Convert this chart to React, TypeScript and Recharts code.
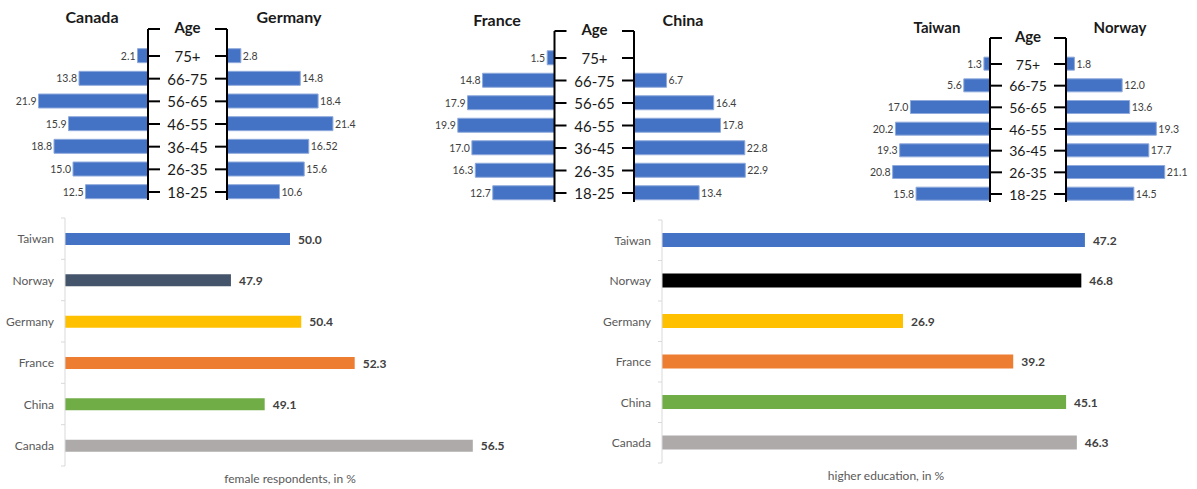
import { BarChart, Bar, XAxis, YAxis, LabelList, Cell } from 'recharts'

// age groups, top row first
const ageGroups = ['75+', '66-75', '56-65', '46-55', '36-45', '26-35', '18-25']

const canada = [2.1, 13.8, 21.9, 15.9, 18.8, 15.0, 12.5]
const germany = [2.8, 14.8, 18.4, 21.4, 16.52, 15.6, 10.6]
const france = [1.5, 14.8, 17.9, 19.9, 17.0, 16.3, 12.7]
const china = [0, 6.7, 16.4, 17.8, 22.8, 22.9, 13.4]
const taiwan = [1.3, 5.6, 17.0, 20.2, 19.3, 20.8, 15.8]
const norway = [1.8, 12.0, 13.6, 19.3, 17.7, 21.1, 14.5]

const countries = ['Taiwan', 'Norway', 'Germany', 'France', 'China', 'Canada']
const femaleShare = [50.0, 47.9, 50.4, 52.3, 49.1, 56.5]
const higherEducation = [47.2, 46.8, 26.9, 39.2, 45.1, 46.3]
const femaleColors = ['#4472C4', '#44546A', '#FFC000', '#ED7D31', '#70AD47', '#AEAAAA']
const educationColors = ['#4472C4', '#000000', '#FFC000', '#ED7D31', '#70AD47', '#AEAAAA']

const FONT = 'Lato, "Open Sans", sans-serif'
const PAD = 8
const PYR_PAD = 20

const fmt = (v: number) => {
  if (v === 0) return '0'
  const decimals = (String(v).split('.')[1] ?? '').length
  return v.toFixed(Math.max(1, decimals))
}

const edges = (props: any) => {
  const vb = props.viewBox && props.viewBox.width !== undefined ? props.viewBox : props
  const x = Number(vb.x)
  const w = Number(vb.width)
  return {
    left: Math.min(x, x + w),
    right: Math.max(x, x + w),
    cy: Number(vb.y) + Number(vb.height) / 2,
  }
}

interface PyramidProps {
  leftName: string
  rightName: string
  leftValues: number[]
  rightValues: number[]
  leftAxis: number
  rightAxis: number
  top: number
  bottom: number
  first: number
  last: number
  leftScale: number
  rightScale: number
  barSize: number
  catSize: number
  titleY: number
  leftTitleX: number
  rightTitleX: number
}

function Pyramid(p: PyramidProps) {
  // row index runs downward: 0 = 75+, 6 = 18-25; the "Age" head sits above row 0
  const step = (p.last - p.first) / 6
  const head = -(p.first - p.top) / step
  const foot = 6 + (p.bottom - p.last) / step
  const ticks = [head, 0, 1, 2, 3, 4, 5, 6]
  const rows = ageGroups.map((age, i) => ({
    pos: i,
    age,
    l: p.leftValues[i],
    r: p.rightValues[i],
  }))

  const xMax = 25
  const mLeft = 30
  const lw = xMax * p.leftScale
  const rw = xMax * p.rightScale
  const gap = p.rightAxis - p.leftAxis
  const axisW = gap - 14
  const height = p.bottom - p.top + 2 * PYR_PAD
  const axisStyle = { stroke: '#000', strokeWidth: 2 }

  const ageTick = (props: any) => {
    const v = props.payload.value
    const isHead = v < -0.5
    const label = isHead ? 'Age' : ageGroups[Math.round(v)]
    return (
      <text
        x={mLeft + lw + gap / 2}
        y={props.y + (isHead ? -2 : 0)}
        textAnchor="middle"
        dominantBaseline="central"
        fontFamily={FONT}
        fontSize={isHead ? 15 : p.catSize}
        fontWeight={isHead ? 700 : 400}
        fill="#1a1a1a"
      >
        {label}
      </text>
    )
  }

  const title = (text: string, x: number) => (
    <div
      style={{
        position: 'absolute',
        left: x,
        top: p.titleY,
        transform: 'translate(-50%, -50%)',
        fontFamily: FONT,
        fontWeight: 700,
        fontSize: p.catSize + 1,
        color: '#1a1a1a',
        whiteSpace: 'nowrap',
      }}
    >
      {text}
    </div>
  )

  return (
    <>
      {title(p.leftName, p.leftTitleX)}
      {title(p.rightName, p.rightTitleX)}
      <div style={{ position: 'absolute', left: p.leftAxis - lw - mLeft, top: p.top - PYR_PAD }}>
        <BarChart
          width={mLeft + lw + axisW}
          height={height}
          data={rows}
          layout="vertical"
          margin={{ top: PYR_PAD, bottom: PYR_PAD, left: mLeft, right: 0 }}
        >
          <XAxis type="number" domain={[0, xMax]} reversed hide allowDataOverflow />
          <YAxis
            type="number"
            dataKey="pos"
            orientation="right"
            domain={[head, foot]}
            ticks={ticks}
            interval={0}
            allowDataOverflow
            width={axisW}
            axisLine={axisStyle}
            tickLine={axisStyle}
            tickSize={12}
            tick={ageTick}
          />
          <Bar dataKey="l" fill="#4472C4" stroke="#8faadc" strokeWidth={1} barSize={p.barSize} isAnimationActive={false}>
            <LabelList
              dataKey="l"
              content={(props: any) => {
                const e = edges(props)
                return (
                  <text x={e.left - 2} y={e.cy} textAnchor="end" dominantBaseline="central" fontFamily={FONT} fontSize={10.5} fill="#404040">
                    {fmt(Number(props.value))}
                  </text>
                )
              }}
            />
          </Bar>
        </BarChart>
      </div>
      <div style={{ position: 'absolute', left: p.rightAxis - 14, top: p.top - PYR_PAD }}>
        <BarChart
          width={14 + rw + 30}
          height={height}
          data={rows}
          layout="vertical"
          margin={{ top: PYR_PAD, bottom: PYR_PAD, left: 0, right: 30 }}
        >
          <XAxis type="number" domain={[0, xMax]} hide allowDataOverflow />
          <YAxis
            type="number"
            dataKey="pos"
            domain={[head, foot]}
            ticks={ticks}
            interval={0}
            allowDataOverflow
            width={14}
            axisLine={axisStyle}
            tickLine={axisStyle}
            tickSize={12}
            tick={() => <g />}
          />
          <Bar dataKey="r" fill="#4472C4" stroke="#8faadc" strokeWidth={1} barSize={p.barSize} isAnimationActive={false}>
            <LabelList
              dataKey="r"
              content={(props: any) => {
                const e = edges(props)
                return (
                  <text x={e.right + 2} y={e.cy} textAnchor="start" dominantBaseline="central" fontFamily={FONT} fontSize={10.5} fill="#404040">
                    {fmt(Number(props.value))}
                  </text>
                )
              }}
            />
          </Bar>
        </BarChart>
      </div>
    </>
  )
}

interface ShareProps {
  values: number[]
  colors: string[]
  domain: [number, number]
  left: number
  top: number
  bottom: number
  plotWidth: number
  barSize: number
  title: string
}

function ShareChart(s: ShareProps) {
  const data = countries.map((country, i) => ({ country, value: s.values[i] }))
  const axisW = 65
  const band = (s.bottom - s.top) / countries.length
  const xAxisH = 17

  const countryTick = (props: any) => {
    const y = props.y
    const last = props.index === countries.length - 1
    return (
      <g>
        <line x1={axisW - 4} x2={axisW} y1={y - band / 2} y2={y - band / 2} stroke="#d9d9d9" />
        {last && <line x1={axisW - 4} x2={axisW} y1={y + band / 2} y2={y + band / 2} stroke="#d9d9d9" />}
        <text x={axisW - 11} y={y} textAnchor="end" dominantBaseline="central" fontFamily={FONT} fontSize={12} fill="#595959">
          {props.payload.value}
        </text>
      </g>
    )
  }

  return (
    <div style={{ position: 'absolute', left: s.left, top: s.top - PAD }}>
      <BarChart
        width={axisW + s.plotWidth + 40}
        height={s.bottom - s.top + PAD + xAxisH + 4}
        data={data}
        layout="vertical"
        margin={{ top: PAD, bottom: 4, left: 0, right: 40 }}
      >
        <XAxis
          type="number"
          domain={s.domain}
          allowDataOverflow
          tick={false}
          axisLine={false}
          tickLine={false}
          height={xAxisH}
          label={{ value: s.title, position: 'insideBottom', offset: 0, fontFamily: FONT, fontSize: 12, fill: '#595959' }}
        />
        <YAxis
          type="category"
          dataKey="country"
          width={axisW}
          axisLine={{ stroke: '#d9d9d9' }}
          tickLine={false}
          interval={0}
          tick={countryTick}
        />
        <Bar dataKey="value" barSize={s.barSize} isAnimationActive={false}>
          {data.map((d, i) => (
            <Cell key={d.country} fill={s.colors[i]} />
          ))}
          <LabelList
            dataKey="value"
            content={(props: any) => {
              const e = edges(props)
              return (
                <text x={e.right + 8} y={e.cy} textAnchor="start" dominantBaseline="central" fontFamily={FONT} fontSize={12} fontWeight={700} fill="#404040">
                  {fmt(Number(props.value))}
                </text>
              )
            }}
          />
        </Bar>
      </BarChart>
    </div>
  )
}

export default function App() {
  return (
    <div style={{ position: 'absolute', left: 0, top: 0, width: 1197, height: 489, background: '#fff', overflow: 'hidden' }}>
      <Pyramid
        leftName="Canada" rightName="Germany" leftValues={canada} rightValues={germany}
        leftAxis={148} rightAxis={227} top={29} bottom={200} first={56} last={192}
        leftScale={5.0} rightScale={4.95} barSize={14} catSize={15}
        titleY={16} leftTitleX={92} rightTitleX={289}
      />
      <Pyramid
        leftName="France" rightName="China" leftValues={france} rightValues={china}
        leftAxis={554} rightAxis={634} top={31} bottom={202} first={58} last={193}
        leftScale={4.86} rightScale={4.86} barSize={14} catSize={15}
        titleY={19} leftTitleX={497} rightTitleX={683}
      />
      <Pyramid
        leftName="Taiwan" rightName="Norway" leftValues={taiwan} rightValues={norway}
        leftAxis={990} rightAxis={1066} top={38} bottom={202} first={64} last={194}
        leftScale={4.68} rightScale={4.68} barSize={13} catSize={14}
        titleY={27} leftTitleX={937} rightTitleX={1120}
      />
      <ShareChart
        values={femaleShare} colors={femaleColors} domain={[42, 58]}
        left={0} top={218} bottom={466} plotWidth={450} barSize={12}
        title="female respondents, in %"
      />
      <ShareChart
        values={higherEducation} colors={educationColors} domain={[0, 50]}
        left={597} top={220} bottom={463} plotWidth={448} barSize={14}
        title="higher education, in %"
      />
    </div>
  )
}
